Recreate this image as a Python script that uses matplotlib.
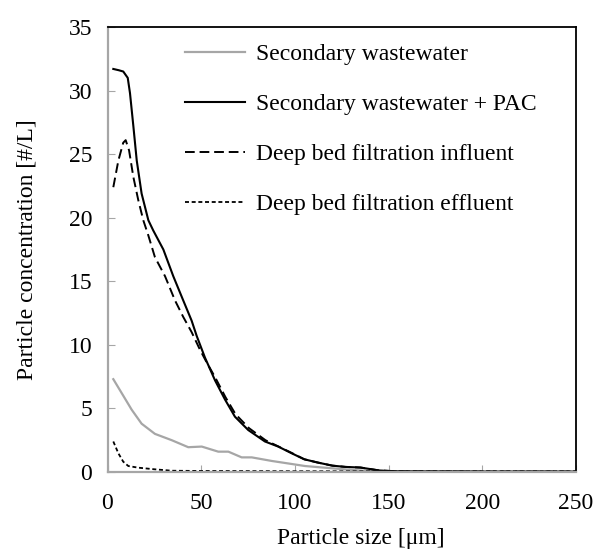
import matplotlib
matplotlib.use("Agg")
import matplotlib.pyplot as plt

plt.rcParams['font.family'] = ['Liberation Serif', 'DejaVu Serif']

# Data
x_pac = [3.1, 6, 8.4, 10.8, 12, 13.8, 15.6, 18.2, 21.8, 24.4, 29.8, 35.1, 40.4, 44.9,
         47.6, 52, 57.4, 62.7, 68, 75.1, 84, 91.1, 98.3, 105, 112, 120, 127, 135,
         145, 155, 170, 200, 225, 250]
y_pac = [31.7, 31.6, 31.5, 31.0, 29.8, 27.2, 24.5, 21.9, 19.8, 19.0, 17.5, 15.4, 13.5, 11.9,
         10.7, 9.0, 7.2, 5.7, 4.35, 3.3, 2.4, 2.0, 1.47, 1.0, 0.75, 0.5, 0.4, 0.35,
         0.12, 0.05, 0.04, 0.03, 0.03, 0.03]

x_inf = [3.1, 5.8, 8.4, 9.7, 11.5, 13.8, 16.4, 19.1, 21.8, 25.3, 30.7, 36, 40.4, 44.9,
         49.4, 53, 57.6, 62.9, 68.3, 75.5, 84.3, 91.3, 98.3, 105, 112, 120, 127, 135,
         145, 155, 170, 200, 225, 250]
y_inf = [22.4, 24.5, 25.9, 26.1, 25.3, 23.2, 21.4, 19.8, 18.6, 16.9, 15.4, 13.5, 12.2, 11.0,
         9.6, 8.6, 7.4, 5.9, 4.55, 3.45, 2.5, 2.0, 1.5, 1.0, 0.75, 0.5, 0.4, 0.35,
         0.12, 0.05, 0.04, 0.03, 0.03, 0.03]

x_sec = [3.1, 7.6, 12.9, 18.2, 25.3, 34.3, 43.1, 50.3, 59.1, 64.5, 71.6, 77, 87.6,
         98.3, 105.4, 119, 136, 150, 175, 200, 250]
y_sec = [7.3, 6.2, 4.9, 3.8, 3.0, 2.5, 1.95, 2.0, 1.6, 1.6, 1.15, 1.15, 0.87,
         0.63, 0.47, 0.3, 0.1, 0.05, 0.03, 0.02, 0.02]

x_eff = [3.1, 5.8, 8.4, 11.1, 16.4, 25.3, 34.3, 50, 75, 100, 150, 200, 250]
y_eff = [2.4, 1.47, 0.81, 0.47, 0.34, 0.21, 0.1, 0.08, 0.07, 0.06, 0.05, 0.05, 0.05]

labels = ["Secondary wastewater", "Secondary wastewater + PAC",
          "Deep bed filtration influent", "Deep bed filtration effluent"]
x_ticks = [0, 50, 100, 150, 200, 250]
y_ticks = [0, 5, 10, 15, 20, 25, 30, 35]

gray = '#a6a6a6'
fs = 17

fig = plt.figure(figsize=(5.95, 5.54), dpi=100)
ax = fig.add_axes([107.5 / 595, 1 - 472 / 554, (576 - 107.5) / 595, (472 - 27) / 554])

ax.plot(x_sec, y_sec, color=gray, lw=1.6, label=labels[0])
ax.plot(x_pac, y_pac, color='black', lw=1.5, label=labels[1])
ax.plot(x_inf, y_inf, color='black', lw=1.4, dashes=(5, 2.5), label=labels[2])
ax.plot(x_eff, y_eff, color='black', lw=1.3, dashes=(2.2, 1.5), label=labels[3])

ax.set_xlim(0, 250)
ax.set_ylim(0, 35)
ax.set_xticks(x_ticks)
ax.set_yticks(y_ticks)

for s in ['left', 'bottom']:
    ax.spines[s].set_color(gray)
    ax.spines[s].set_linewidth(1.6)
for s in ['top', 'right']:
    ax.spines[s].set_color('black')
    ax.spines[s].set_linewidth(1.3)

ax.tick_params(axis='both', direction='in', length=5, width=0.8, color=gray,
               labelsize=fs)
ax.tick_params(axis='x', pad=15)
ax.tick_params(axis='y', pad=11)

ax.set_xlabel("Particle size [μm]", fontsize=fs)
ax.xaxis.set_label_coords(0.54, -0.125)
ax.set_ylabel("Particle concentration [#/L]", fontsize=fs)
ax.yaxis.set_label_coords(-0.15, 0.5)

ax.legend(loc='upper left', bbox_to_anchor=(0.165, 0.962), frameon=False,
          fontsize=fs, handlelength=2.54, handletextpad=0.47, labelspacing=1.2,
          borderpad=0, borderaxespad=0)

fig.savefig("out.png", dpi=100)
